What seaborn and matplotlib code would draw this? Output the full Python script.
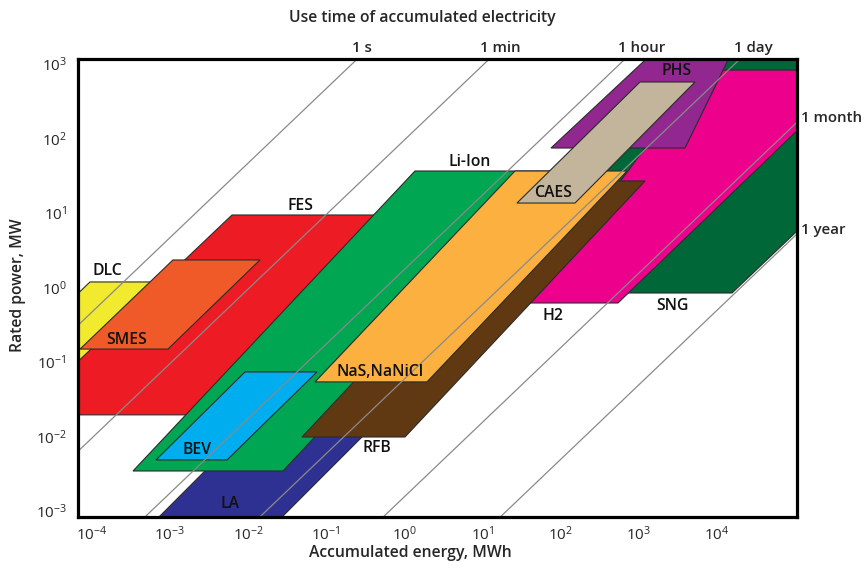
import matplotlib
matplotlib.use("Agg")
import matplotlib.pyplot as plt
import numpy as np
import pandas as pd
import seaborn as sns

# ---------------- data ----------------
# polygon vertices: accumulated energy (MWh) and rated power (MW)
dlc_energy = [9.46e-5, 8.63e-4, 5.73e-5, 6.28e-6]
dlc_power = [1.186, 1.186, 0.0782, 0.0782]

fes_energy = [6.22e-3, 0.881, 1.80e-3, 1.27e-5]
fes_power = [9.40, 9.40, 0.0195, 0.0195]

smes_energy = [1.09e-3, 1.42e-2, 9.42e-4, 7.05e-5]
smes_power = [2.34, 2.34, 0.149, 0.149]

la_energy = [0.0169, 0.637, 0.0215, 5.71e-4]
la_power = [0.0227, 0.0227, 6.49e-4, 6.49e-4]

liion_energy = [1.37, 107.7, 0.0280, 3.36e-4]
liion_power = [36.6, 36.6, 3.44e-3, 3.44e-3]

bev_energy = [9.12e-3, 0.0762, 5.37e-3, 6.62e-4]
bev_power = [0.0735, 0.0735, 4.84e-3, 4.84e-3]

sng_energy = [710, 15700, 135200, 135200, 19860, 320.6]
sng_power = [0.843, 0.843, 7.23, 1542, 1542, 81.8]

h2_energy = [40.6, 544.5, 135200, 135200, 6109, 1208]
h2_power = [0.619, 0.619, 161.4, 829.8, 829.8, 74.5]

phs_energy = [75.5, 3926, 15030, 1419]
phs_power = [74.5, 74.5, 1321, 1321]

rfb_energy = [0.0490, 1.02, 1208, 57.9]
rfb_power = [9.84e-3, 9.84e-3, 26.9, 26.9]

nas_energy = [0.0719, 1.95, 710, 26.1]
nas_power = [0.0540, 0.0540, 36.6, 36.6]

caes_energy = [27.7, 153.5, 5272, 1042]
caes_power = [13.6, 13.6, 573, 573]

tech_names = ["DLC", "FES", "SMES", "LA", "Li-Ion", "BEV",
              "SNG", "H2", "PHS", "RFB", "NaS,NaNiCl", "CAES"]
tech_energy = [dlc_energy, fes_energy, smes_energy, la_energy, liion_energy,
               bev_energy, sng_energy, h2_energy, phs_energy, rfb_energy,
               nas_energy, caes_energy]
tech_power = [dlc_power, fes_power, smes_power, la_power, liion_power,
              bev_power, sng_power, h2_power, phs_power, rfb_power,
              nas_power, caes_power]
tech_colors = ["#F1EA2E", "#ED1C24", "#F05A28", "#2E3192", "#00A651",
               "#00AEEF", "#006838", "#EC008C", "#92278F", "#603913",
               "#FBB040", "#C2B59B"]

# label anchor points (energy, power)
label_energy = [1.56e-4, 0.0462, 2.81e-4, 5.86e-3, 6.93, 2.22e-3,
                2754, 80.2, 3105, 0.447, 0.489, 80.2]
label_power = [1.66, 12.4, 0.197, 1.24e-3, 48.4, 6.59e-3,
               0.565, 0.414, 805, 7.02e-3, 0.0735, 18.5]

# use-time guide lines: E = P * t  (t in hours, as drawn)
time_labels = ["1 s", "1 min", "1 hour", "1 day", "1 month", "1 year"]
time_hours = [2.14e-4, 0.0105, 0.575, 17.0, 646, 20400]

x_ticks = [1e-4, 1e-3, 1e-2, 1e-1, 1e0, 1e1, 1e2, 1e3, 1e4]
x_ticklabels = [r"$10^{-4}$", r"$10^{-3}$", r"$10^{-2}$", r"$10^{-1}$", r"$10^{0}$",
                r"$10^{1}$", r"$10^{2}$", r"$10^{3}$", r"$10^{4}$"]
y_ticks = [1e-3, 1e-2, 1e-1, 1e0, 1e1, 1e2, 1e3]
y_ticklabels = [r"$10^{-3}$", r"$10^{-2}$", r"$10^{-1}$", r"$10^{0}$",
                r"$10^{1}$", r"$10^{2}$", r"$10^{3}$"]

# ---------------- style ----------------
sns.set_theme(style="white")
plt.rcParams["font.family"] = ["Open Sans", "DejaVu Sans"]
plt.rcParams["mathtext.fontset"] = "custom"
plt.rcParams["mathtext.rm"] = "Open Sans:semibold"
plt.rcParams["mathtext.default"] = "regular"

W, H = 865, 568
fig = plt.figure(figsize=(W / 100, H / 100), dpi=100)
ax = fig.add_axes([78 / W, 1 - 517 / H, (797 - 78) / W, (517 - 59) / H])
ax.set_xscale("log")
ax.set_yscale("log")
xlim = (10 ** -4.178, 10 ** 5.028)
ylim = (10 ** -3.081, 10 ** 3.067)
ax.set_xlim(xlim)
ax.set_ylim(ylim)

# polygons
for name, ex, py, col in zip(tech_names, tech_energy, tech_power, tech_colors):
    ax.fill(ex, py, facecolor=col, edgecolor="#2b2b2b", linewidth=0.8, zorder=2)

# guide lines
p_range = [1e-5, 1e5]
rows = []
for lab, t in zip(time_labels, time_hours):
    for p in p_range:
        rows.append({"line": lab, "energy": p * t, "power": p})
lines_df = pd.DataFrame(rows)
sns.lineplot(data=lines_df, x="energy", y="power", units="line", estimator=None,
             color="#8a8a8a", linewidth=0.9, sort=False, ax=ax, zorder=3)
ax.set_xlim(xlim)
ax.set_ylim(ylim)

# technology labels
for name, ex, py in zip(tech_names, label_energy, label_power):
    ax.text(ex, py, name, ha="center", va="center", fontsize=11.3,
            fontweight="semibold", color="#111111", zorder=5)

# time labels (top and right)
top_pos_energy = [0.287, 16.8, 1107, 29170]
for lab, ex in zip(time_labels[:4], top_pos_energy):
    ax.text(ex, 10 ** 3.215, lab, ha="center", va="center", fontsize=10.8,
            fontweight="semibold", clip_on=False)
right_pos_power = [188.4, 5.92]
for lab, py in zip(time_labels[4:], right_pos_power):
    ax.text(10 ** 5.085, py, lab, ha="left", va="center", fontsize=10.8,
            fontweight="semibold", clip_on=False)

# ticks
ax.set_xticks(x_ticks)
ax.set_xticklabels(x_ticklabels)
ax.set_yticks(y_ticks)
ax.set_yticklabels(y_ticklabels)
ax.minorticks_off()
ax.tick_params(axis="x", length=0, pad=6, labelsize=11)
ax.tick_params(axis="y", length=0, pad=8, labelsize=11)
for s in ax.spines.values():
    s.set_linewidth(2.3)
    s.set_color("black")
    s.set_zorder(6)
ax.set_xlabel("")
ax.set_ylabel("")

fig.text(422 / W, 1 - 18 / H, "Use time of accumulated electricity",
         ha="center", va="center", fontsize=11.3, fontweight="semibold")
fig.text(410 / W, 1 - 553 / H, "Accumulated energy, MWh",
         ha="center", va="center", fontsize=11.3, fontweight="semibold")
fig.text(18 / W, 1 - 285 / H, "Rated power, MW", rotation=90,
         ha="center", va="center", fontsize=11.3, fontweight="semibold")

fig.savefig("out.png", dpi=100)
